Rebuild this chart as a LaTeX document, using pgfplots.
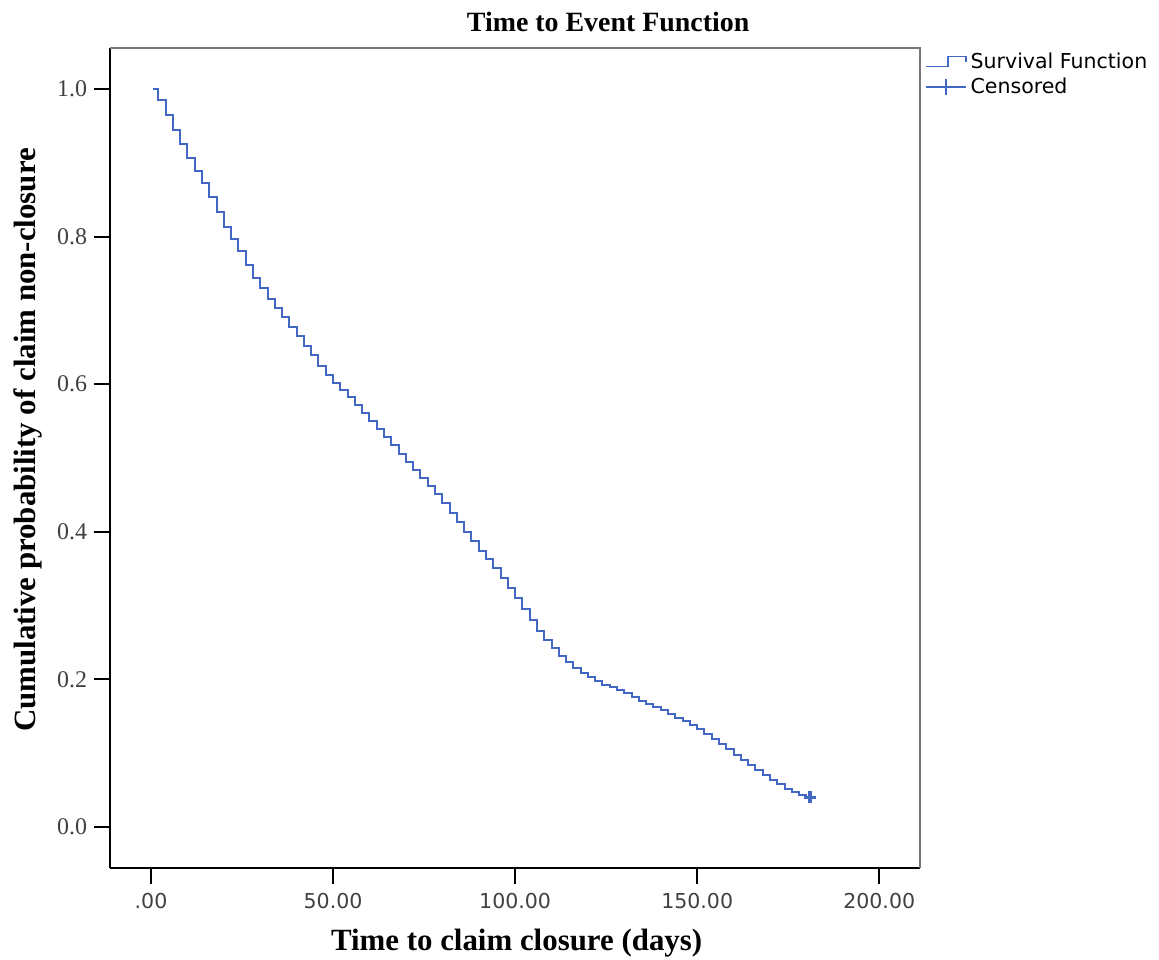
\documentclass[border=0pt]{standalone}
\usepackage{fontspec}
\setmainfont{Liberation Serif}
\newfontfamily\dejavu{DejaVu Sans}
\usepackage{pgfplots}
\pgfplotsset{compat=1.18}

\definecolor{spssblue}{RGB}{66,104,196}
\definecolor{framegray}{RGB}{120,120,120}

% Kaplan-Meier estimate
\pgfplotstableread{
t S
0.5 1.000
2 0.985
4 0.965
6 0.944
8 0.925
10 0.907
12 0.889
14 0.872
16 0.854
18 0.833
20 0.813
22 0.797
24 0.781
26 0.762
28 0.744
30 0.730
32 0.716
34 0.703
36 0.691
38 0.678
40 0.665
42 0.652
44 0.639
46 0.624
48 0.612
50 0.602
52 0.592
54 0.582
56 0.572
58 0.561
60 0.550
62 0.539
64 0.528
66 0.517
68 0.506
70 0.495
72 0.484
74 0.473
76 0.462
78 0.451
80 0.439
82 0.426
84 0.413
86 0.400
88 0.387
90 0.374
92 0.363
94 0.351
96 0.338
98 0.324
100 0.310
102 0.296
104 0.281
106 0.266
108 0.254
110 0.243
112 0.232
114 0.223
116 0.216
118 0.209
120 0.203
122 0.198
124 0.193
126 0.189
128 0.185
130 0.181
132 0.176
134 0.171
136 0.166
138 0.162
140 0.158
142 0.153
144 0.148
146 0.143
148 0.138
150 0.133
152 0.126
154 0.119
156 0.112
158 0.105
160 0.098
162 0.091
164 0.084
166 0.077
168 0.071
170 0.064
172 0.058
174 0.052
176 0.047
178 0.043
180 0.041
181 0.040
}\survtable

\begin{document}
\begin{tikzpicture}
\useasboundingbox (-55bp,-46bp) rectangle (524.5bp,434bp);
\begin{axis}[
  at={(0,0)}, anchor=south west,
  scale only axis,
  width=405bp, height=410bp,
  xmin=-11.26, xmax=211.2,
  ymin=-0.0556, ymax=1.0556,
  axis x line*=bottom, axis y line*=left,
  axis line style={black, line width=1bp, -},
  xtick={0,50,100,150,200},
  xticklabels={.00,50.00,100.00,150.00,200.00},
  ytick={0,0.2,0.4,0.6,0.8,1.0},
  yticklabels={0.0,0.2,0.4,0.6,0.8,1.0},
  tick align=outside,
  major tick length=8bp,
  tick style={black, line width=1bp},
  x tick label style={font=\dejavu\fontsize{10.3}{12}\selectfont, text=black!75, yshift=-1bp},
  y tick label style={font=\fontsize{12}{14}\selectfont, text=black!75},
  every axis title shift=0pt,
  title={\textbf{Time to Event Function}},
  title style={font=\fontsize{14}{16}\selectfont, at={(axis description cs:0.615,1.032)}, anchor=center, yshift=0pt},
  xlabel={\textbf{Time to claim closure (days)}},
  xlabel style={font=\fontsize{15.5}{18}\selectfont, at={(axis description cs:0.502,-0.0915)}, anchor=center},
  ylabel={\textbf{Cumulative probability of claim non-closure}},
  ylabel style={font=\fontsize{15.5}{18}\selectfont, at={(axis description cs:-0.101,0.522)}, anchor=center, rotate=0},
  legend style={at={(axis description cs:1.006,0.999)}, anchor=north west,
    draw=none, fill=none, inner sep=0pt, row sep=-1bp,
    font=\dejavu\fontsize{10.3}{12}\selectfont},
  legend cell align=left,
  clip=false,
]
\draw[framegray, line width=1bp] (rel axis cs:0,1) -- (rel axis cs:1,1) -- (rel axis cs:1,0);
\addplot[const plot, spssblue, line width=1bp,
  legend image code/.code={
    \draw[spssblue, line width=0.7bp] (0bp,-2bp) -- (11bp,-2bp) -- (11bp,3bp) -- (20bp,3bp) -- (20bp,0bp);
  }] table[x=t, y=S] {\survtable};
\addlegendentry{Survival Function}
\addplot[only marks, mark=+, mark size=3bp, spssblue, mark options={line width=1.6bp},
  legend image code/.code={
    \draw[spssblue, line width=0.7bp] (0bp,0bp) -- (20bp,0bp);
    \draw[spssblue, line width=0.7bp] (10bp,-4bp) -- (10bp,4bp);
  }] coordinates {(181,0.040)};
\addlegendentry{Censored}
\end{axis}
\end{tikzpicture}
\end{document}
